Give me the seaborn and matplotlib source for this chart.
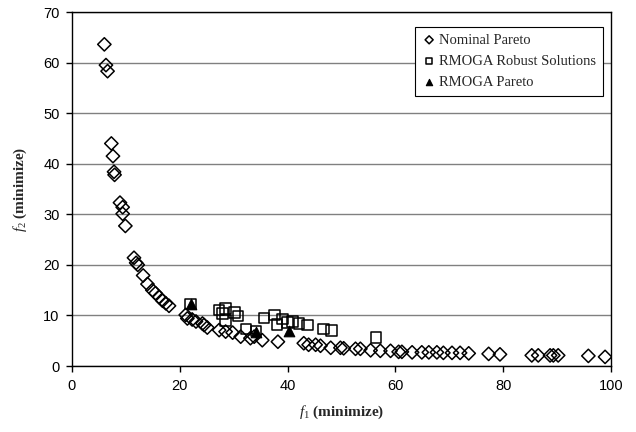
import matplotlib
matplotlib.use("Agg")
import matplotlib.pyplot as plt
import seaborn as sns
import pandas as pd

nominal_f1 = [6.0, 6.3, 6.6, 7.3, 7.6, 7.8, 7.9, 8.9, 9.4, 9.4, 9.9, 11.5, 11.9, 12.2,
              13.2, 14.0, 14.9, 15.5, 16.2, 16.8, 17.4, 18.0, 21.1, 21.4, 22.3, 23.0,
              24.2, 24.5, 25.1, 27.3, 28.5, 29.8, 31.3, 33.1, 33.8, 35.3, 38.2, 43.0,
              43.9, 45.2, 46.1, 48.0, 49.8, 50.4, 52.6, 53.5, 55.4, 57.2, 59.1, 60.6,
              61.2, 63.1, 64.9, 66.2, 67.7, 68.9, 70.5, 72.0, 73.6, 77.3, 79.4, 85.3,
              86.5, 88.7, 89.3, 90.2, 95.8, 98.9]
nominal_f2 = [63.6, 59.5, 58.3, 44.0, 41.5, 38.4, 37.8, 32.3, 31.4, 30.1, 27.7, 21.4, 20.4, 20.0,
              17.9, 16.2, 15.0, 14.4, 13.6, 12.9, 12.4, 11.9, 10.1, 9.4, 9.2, 8.8,
              8.4, 8.1, 7.6, 7.1, 6.8, 6.6, 5.8, 5.5, 5.8, 5.1, 4.8, 4.5,
              4.2, 4.2, 4.0, 3.6, 3.6, 3.5, 3.4, 3.4, 3.1, 3.0, 3.0, 2.8,
              2.8, 2.7, 2.7, 2.7, 2.7, 2.6, 2.6, 2.6, 2.5, 2.4, 2.3, 2.1,
              2.1, 2.1, 2.1, 2.1, 2.0, 1.8]

robust_f1 = [22.0, 27.3, 28.5, 27.9, 30.1, 30.8, 28.5, 32.3, 34.1, 35.6, 37.6, 38.0,
             39.1, 40.0, 40.9, 42.1, 43.7, 46.7, 48.1, 56.4]
robust_f2 = [12.3, 11.1, 11.4, 10.4, 10.6, 9.9, 9.0, 7.3, 6.9, 9.5, 10.1, 8.2,
             9.3, 8.6, 8.8, 8.4, 8.1, 7.3, 7.0, 5.6]

pareto_f1 = [22.0, 34.1, 40.2]
pareto_f2 = [12.3, 6.8, 6.9]

labels = ["Nominal Pareto", "RMOGA Robust Solutions", "RMOGA Pareto"]
x_ticks = [0, 20, 40, 60, 80, 100]
y_ticks = [0, 10, 20, 30, 40, 50, 60, 70]

sns.set_style("white")
plt.rcParams['font.family'] = ['Liberation Sans', 'DejaVu Sans']
plt.rcParams['mathtext.fontset'] = 'custom'
plt.rcParams['mathtext.it'] = 'Liberation Serif:italic'
plt.rcParams['mathtext.rm'] = 'Liberation Serif'

fig = plt.figure(figsize=(6.36, 4.32), dpi=100)
ax = fig.add_axes([72/636, 66/432, (611-72)/636, (366-12)/432])

df_nom = pd.DataFrame({"f1": nominal_f1, "f2": nominal_f2})
df_rob = pd.DataFrame({"f1": robust_f1, "f2": robust_f2})
df_par = pd.DataFrame({"f1": pareto_f1, "f2": pareto_f2})

sns.scatterplot(data=df_nom, x="f1", y="f2", ax=ax, marker="D", s=46,
                facecolor="none", edgecolor="black", linewidth=1.1, label=labels[0], zorder=3)
sns.scatterplot(data=df_rob, x="f1", y="f2", ax=ax, marker="s", s=58,
                facecolor="none", edgecolor="black", linewidth=1.1, label=labels[1], zorder=4)
sns.scatterplot(data=df_par, x="f1", y="f2", ax=ax, marker="^", s=58,
                color="black", edgecolor="black", linewidth=0.8, label=labels[2], zorder=5)

ax.set_xlim(0, 100)
ax.set_ylim(0, 70)
ax.set_xticks(x_ticks)
ax.set_yticks(y_ticks)
ax.tick_params(axis='both', direction='out', length=4, width=1, colors='black',
               labelsize=10.5, bottom=True, left=True, pad=5)
ax.yaxis.grid(True, color='#808080', linewidth=1)
ax.xaxis.grid(False)
ax.set_axisbelow(True)
for sp in ax.spines.values():
    sp.set_color('black')
    sp.set_linewidth(1)

ax.set_xlabel(r'$f_{\rm 1}$ (minimize)', fontsize=11, fontweight='bold',
              family='Liberation Serif', labelpad=8)
ax.set_ylabel(r'$f_{\rm 2}$ (minimize)', fontsize=11, fontweight='bold',
              family='Liberation Serif', labelpad=10)

leg = ax.legend(loc='upper right', bbox_to_anchor=(0.985, 0.958), frameon=True,
                fancybox=False, edgecolor='black', framealpha=1,
                prop={'family': 'Liberation Serif', 'size': 10.5},
                handletextpad=0.2, handlelength=1.0, borderpad=0.45,
                labelspacing=0.55, markerscale=0.6, borderaxespad=0)
leg.get_frame().set_linewidth(0.8)

fig.savefig("out.png", dpi=100)
